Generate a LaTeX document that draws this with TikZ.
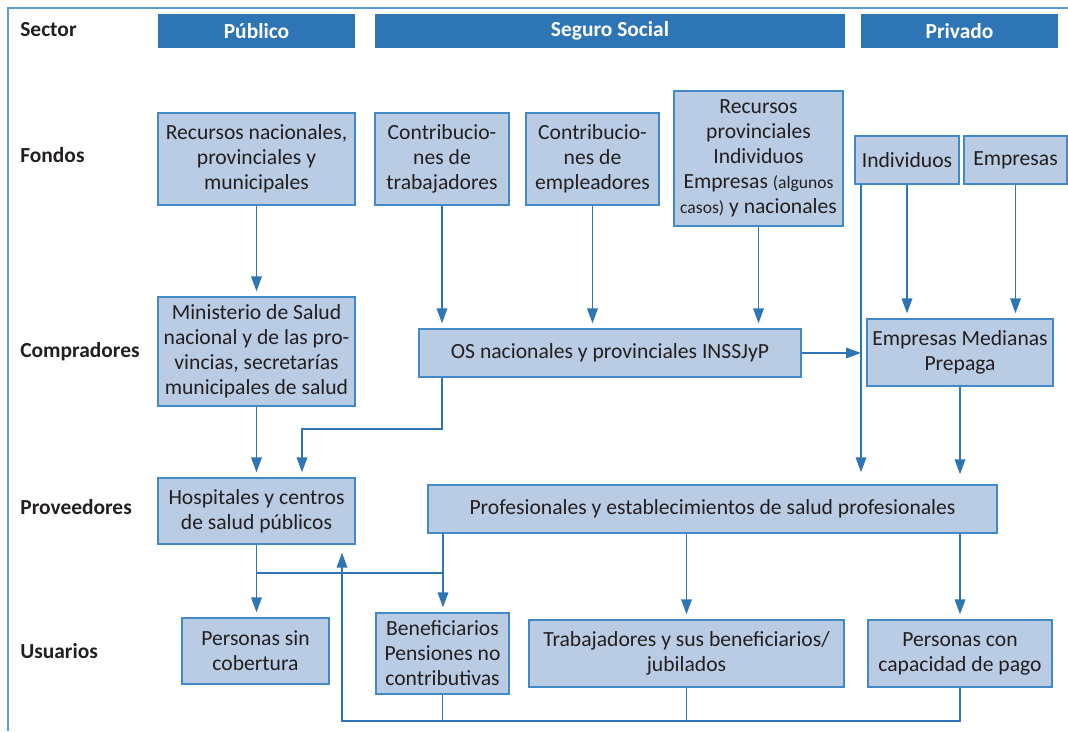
\documentclass[tikz,border=0pt]{standalone}
\usepackage{fontspec}
\setmainfont{Carlito}
\definecolor{azul}{RGB}{46,117,182}
\definecolor{relleno}{RGB}{185,204,228}
\definecolor{borde}{RGB}{65,137,200}
\definecolor{texto}{RGB}{35,31,32}
\definecolor{marcoazul}{RGB}{91,155,213}
\tikzset{caja/.style = {draw=borde, line width=0.8pt, fill=relleno, align=center, inner sep=1pt, text=texto, font=\fontsize{12.3}{14.2}\selectfont}}
\tikzset{titulo/.style = {fill=azul, text=white, font=\bfseries\fontsize{12.2}{13}\selectfont, minimum height=0.68cm, inner sep=0}}
\tikzset{fila/.style = {anchor=west, inner sep=0, text=texto, font=\bfseries\fontsize{12.2}{13}\selectfont}}
\tikzset{flecha/.style = {draw=azul, line width=0.95pt, -{Triangle[width=6pt,length=8.5pt]}, shorten >=0.1cm}}
\tikzset{linea/.style = {draw=azul, line width=0.95pt}}
\usetikzlibrary{arrows.meta,
                 positioning}

\begin{document}
\begin{tikzpicture}[x=0.02cm, y=-0.02cm]
    \useasboundingbox (0,0) rectangle (1068,731);
    \draw [marcoazul, line width=1.1pt] (1068,8) -- (8,8) -- (8,731);
    % filas
    \node [fila] (sector) at (20,30) {Sector};
    \node [fila] (fondos) at (20,155) {Fondos};
    \node [fila] (compradores) at (20,352) {Compradores};
    \node [fila] (proveedores) at (20,507) {Proveedores};
    \node [fila] (usuarios) at (20,651) {Usuarios};
    % sectores
    \node [titulo, minimum width=3.94cm] (publico) at (256.5,31) {Público};
    \node [titulo, minimum width=9.40cm] (seguro) at (610,31) {Seguro Social};
    \node [titulo, minimum width=3.94cm] (privado) at (959.5,31) {Privado};
    % fondos
    \node [caja, minimum width=3.94cm, minimum height=1.84cm] (rnpm) at (256.5,159) {Recursos nacionales,\\provinciales y\\municipales};
    \node [caja, minimum width=2.68cm, minimum height=1.84cm] (ctrab) at (442,159) {Contribucio-\\nes de\\trabajadores};
    \node [caja, minimum width=2.66cm, minimum height=1.84cm] (cemp) at (592.5,159) {Contribucio-\\nes de\\empleadores};
    \node [caja, minimum width=3.38cm, minimum height=2.70cm] (rprov) at (758.5,158.5) {Recursos\\provinciales\\Individuos\\Empresas {\fontsize{10}{14.2}\selectfont (algunos}\\{\fontsize{10}{14.2}\selectfont casos)} y nacionales};
    \node [caja, minimum width=2.08cm, minimum height=0.96cm] (ind) at (907,160) {Individuos};
    \node [caja, minimum width=2.06cm, minimum height=0.96cm] (emp) at (1015.5,160) {Empresas};
    % compradores
    \node [caja, minimum width=3.94cm, minimum height=2.18cm] (min) at (256.5,351.5) {Ministerio de Salud\\nacional y de las pro-\\vincias, secretarías\\municipales de salud};
    \node [caja, minimum width=7.64cm, minimum height=0.96cm] (os) at (610,353) {OS nacionales y provinciales INSSJyP};
    \node [caja, minimum width=3.72cm, minimum height=1.34cm] (emed) at (960,352.5) {Empresas Medianas\\Prepaga};
    % proveedores
    \node [caja, minimum width=3.94cm, minimum height=1.32cm] (hosp) at (256.5,511) {Hospitales y centros\\de salud públicos};
    \node [caja, minimum width=11.38cm, minimum height=0.96cm] (prof) at (712.5,509) {Profesionales y establecimientos de salud profesionales};
    % usuarios
    \node [caja, minimum width=2.94cm, minimum height=1.32cm] (psin) at (255.5,651) {Personas sin\\cobertura};
    \node [caja, minimum width=2.66cm, minimum height=1.62cm] (benef) at (442.5,653.5) {Beneficiarios\\Pensiones no\\contributivas};
    \node [caja, minimum width=6.30cm, minimum height=1.34cm] (trab) at (686.5,653.5) {Trabajadores y sus beneficiarios/\\jubilados};
    \node [caja, minimum width=3.68cm, minimum height=1.34cm] (pcap) at (960,653.5) {Personas con\\capacidad de pago};
    \coordinate (bajada) at (861,184);
    \coordinate (cruce) at (443,573);
    \coordinate (retorno) at (342,721);
    % fondos a compradores
    \draw [flecha] (rnpm.south) -- (min.north);
    \draw [flecha] (ctrab.south) -- (ctrab.south |- os.north);
    \draw [flecha] (cemp.south) -- (cemp.south |- os.north);
    \draw [flecha] (rprov.south) -- (rprov.south |- os.north);
    \draw [flecha] (ind.south) -- (ind.south |- emed.north);
    \draw [flecha] (emp.south) -- (emp.south |- emed.north);
    \draw [flecha, shorten >=0] (os.east) -- (bajada |- os.east);
    % compradores a proveedores
    \draw [flecha, shorten >=0.24cm] (bajada) -- (bajada |- prof.north);
    \draw [flecha, shorten >=0.2cm] (emed.south) -- (emed.south |- prof.north);
    \draw [flecha] (min.south) -- (hosp.north);
    \draw [flecha] (ctrab.south |- os.south) -- ++(0,51) -| ([xshift=0.91cm]hosp.north);
    % proveedores a usuarios
    \draw [flecha] (hosp.south) -- (hosp.south |- psin.north);
    \draw [linea] (hosp.south |- cruce) -- (cruce);
    \draw [flecha] (prof.south -| cruce) -- (cruce |- benef.north);
    \draw [flecha] (prof.south -| trab.north) -- (trab.north);
    \draw [flecha] (prof.south -| pcap.north) -- (pcap.north);
    % retorno
    \draw [linea] (benef.south) -- (benef.south |- retorno);
    \draw [linea] (trab.south) -- (trab.south |- retorno);
    \draw [flecha, shorten >=0.16cm] (pcap.south) |- (retorno) -- (retorno |- hosp.south);
\end{tikzpicture}
\end{document}
